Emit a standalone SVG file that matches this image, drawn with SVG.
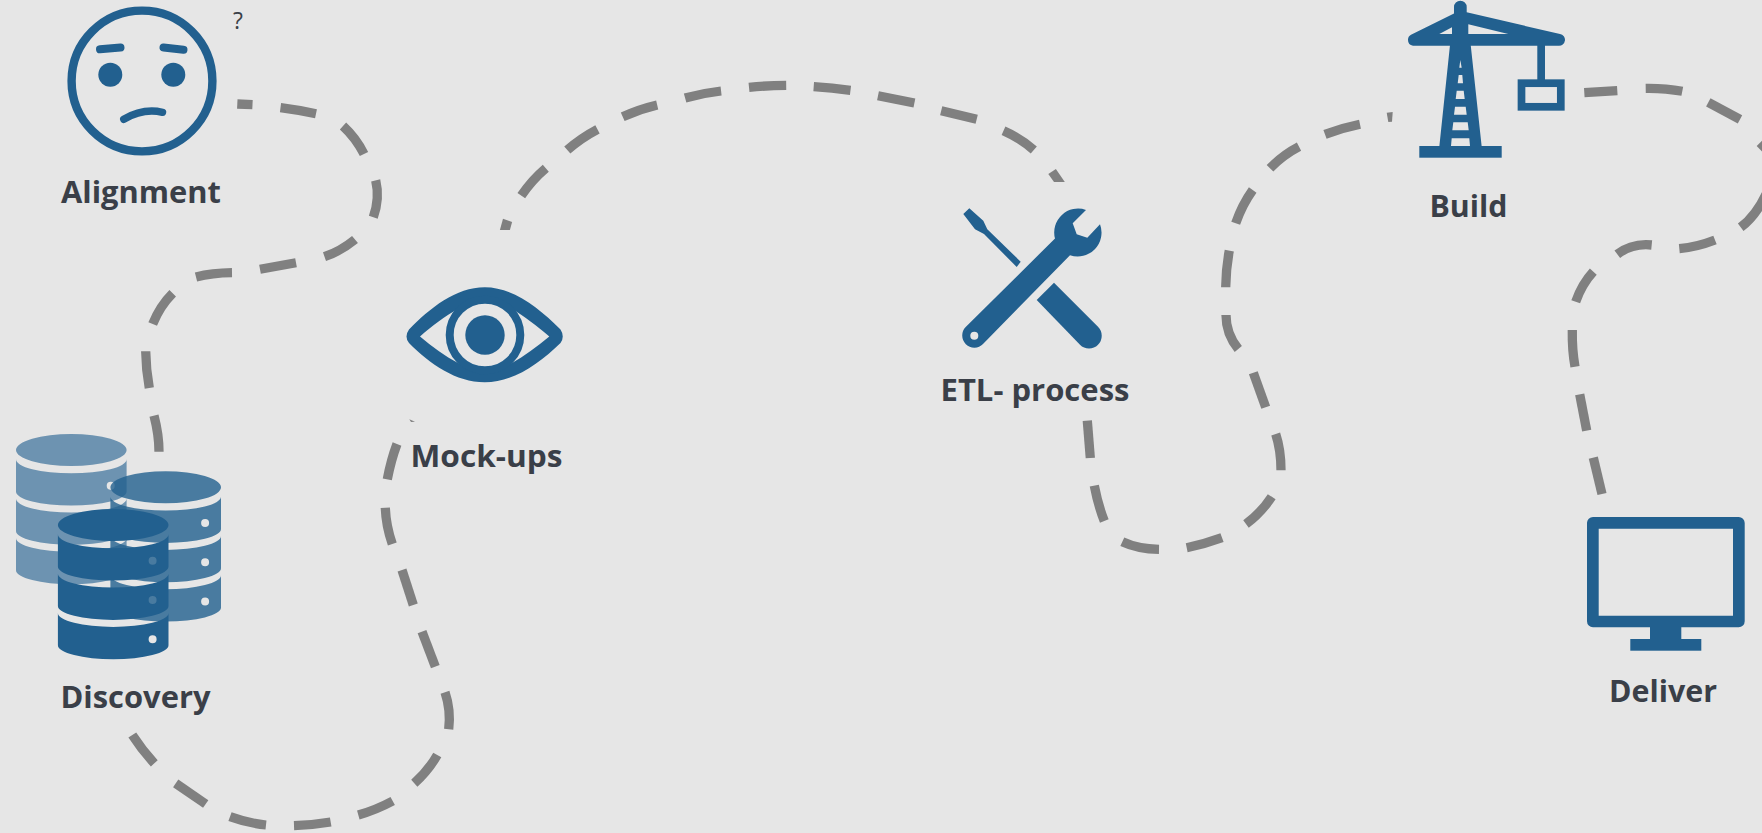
<svg xmlns="http://www.w3.org/2000/svg" xmlns:xlink="http://www.w3.org/1999/xlink" width="1762" height="833" viewBox="0 0 1762 833">
<style>
.label{font-family:"Open Sans","Noto Sans",sans-serif;font-weight:700;font-size:31px;fill:#3a3f48}
.i{fill:#22608f}
.is{fill:none;stroke:#22608f}
#connectors path{fill:none;stroke:#808080;stroke-width:9.3}
#connectors polygon{fill:#808080}
</style>
<defs>
<path id="db" fill-rule="evenodd" d="M-55.3,0A55.3,16 0 1 1 55.3,0A55.3,16 0 1 1 -55.3,0Z
M-55.3,9.3A55.3,14 0 0 0 55.3,9.3V41.6A55.3,14 0 0 1 -55.3,41.6Z M35.4,35.7a4,4 0 1 0 8,0a4,4 0 1 0 -8,0Z
M-55.3,48.6A55.3,14 0 0 0 55.3,48.6V80.9A55.3,14 0 0 1 -55.3,80.9Z M35.4,75a4,4 0 1 0 8,0a4,4 0 1 0 -8,0Z
M-55.3,87.9A55.3,14 0 0 0 55.3,87.9V120.2A55.3,14 0 0 1 -55.3,120.2Z M35.4,114.3a4,4 0 1 0 8,0a4,4 0 1 0 -8,0Z"/>
</defs>
<rect width="1762" height="833" fill="#e6e6e6"/>
<g id="connectors">
<path d="M237.3,104L252.5,104.7"/>
<path d="M280.5,107.7Q298,110 316,113.7"/>
<path d="M343,126Q356,138 364,154"/>
<path d="M375.7,180.3Q380,198 373.3,217.3"/>
<path d="M355,239.5Q341,251 324.5,256.7"/>
<path d="M296,262.7L260,269.3"/>
<path d="M232,272.7Q212,273 196,277"/>
<path d="M172.7,293.3Q160,306 152.7,324"/>
<path d="M145.7,351.3Q146,370 149.3,388"/>
<path d="M154,415.7Q159,435 159,451.7"/>
<path d="M132.3,735Q142,750 154.3,763.3"/>
<path d="M175.7,783.3L205.7,804"/>
<path d="M230,816.7Q247,823 266,825"/>
<path d="M294,825.7Q313,825 330.7,822"/>
<path d="M358.3,815Q376,810 392.7,801"/>
<path d="M414.3,783.3Q428,771 437.3,755"/>
<path d="M448.7,729.3Q451,710 445,692.3"/>
<path d="M435.3,666.7L422,631.7"/>
<path d="M413.3,605L402,570"/>
<path d="M392.3,544Q386,526 385.3,507.7"/>
<path d="M387.3,479.3Q391,460 397,444"/>
<polygon points="409.3,419.3 415,421.7 411,422"/>
<polygon points="499.9,230 509.9,230 512.1,222 503,218.7"/>
<path d="M521.3,195.7Q532,180 545.8,168.3"/>
<path d="M567.3,150Q581,138 597.5,129.3"/>
<path d="M622.7,116.7Q640,109 657.2,105"/>
<path d="M685.1,98Q703,93 721.1,91"/>
<path d="M749,87.3Q767,85.5 786.2,85.3"/>
<path d="M813.7,86.7Q832,88 850.5,90.3"/>
<path d="M878,95.7L914.4,103"/>
<path d="M941.2,110.7L976.7,119.3"/>
<path d="M1003.5,130.7Q1020,138 1033.8,150"/>
<polygon points="1048.3,174 1055.9,169 1064.8,182 1054,182"/>
<polygon points="1386.7,112.7 1392.7,112 1392,121.7 1388.3,122"/>
<path d="M1360,124.3Q1342,128 1325,134.3"/>
<path d="M1299,146.7Q1283,155 1270,168.3"/>
<path d="M1252.7,190Q1242,205 1235.7,223.3"/>
<path d="M1229.3,250.7Q1226,268 1225.7,287.3"/>
<path d="M1226,315Q1226,334 1238.3,349"/>
<path d="M1253.3,372.7L1265.7,407.3"/>
<path d="M1275.7,434Q1281,450 1281,470.3"/>
<path d="M1271.7,496.7Q1261,513 1246,524"/>
<path d="M1222,537.7Q1205,544 1186.7,547.7"/>
<path d="M1159,549.3Q1138,549 1122.3,541.7"/>
<path d="M1104.3,521Q1098,505 1094.3,485.7"/>
<path d="M1090.3,458L1087.3,420.7"/>
<path d="M1584.3,92.7L1617.3,90.7"/>
<path d="M1645.7,88.3Q1665,88 1682.3,91.3"/>
<path d="M1708.3,102.3L1740,119.3"/>
<path d="M1760,142.7L1775,158"/>
<path d="M1768,190Q1757,215 1740.7,227.3"/>
<path d="M1715,240Q1697,247 1679.3,248.7"/>
<path d="M1651.7,245Q1632,243 1617.3,254.3"/>
<path d="M1593.3,271.7Q1582,284 1575.7,301.7"/>
<path d="M1572.3,330Q1572,350 1575,366.7"/>
<path d="M1579.7,394.3L1586.7,430.7"/>
<path d="M1593.3,457.7L1602,494"/>
</g>
<g id="alignment">
<circle class="is" cx="142" cy="81" r="70.4" stroke-width="8.4"/>
<path class="is" stroke-width="8" stroke-linecap="round" d="M100,49.3L120.5,47.5M163.5,47.5L183.5,49.7"/>
<circle class="i" cx="110.3" cy="74.7" r="12"/>
<circle class="i" cx="173.3" cy="74.7" r="12"/>
<path class="is" stroke-width="7.5" stroke-linecap="round" d="M123.8,119.3Q143,108 162.5,112.3"/>
<text class="label" x="61" y="202.5" textLength="160" lengthAdjust="spacingAndGlyphs">Alignment</text>
<text x="233" y="29" font-family="'Open Sans',sans-serif" font-size="23" fill="#3a3f48">?</text>
</g>
<g id="discovery">
<use href="#db" x="71.3" y="450" class="i" opacity="0.62"/>
<use href="#db" x="165.7" y="487.3" class="i" opacity="0.8"/>
<use href="#db" x="113.2" y="525" class="i"/>
<text class="label" x="60.5" y="708" textLength="150" lengthAdjust="spacingAndGlyphs">Discovery</text>
</g>
<g id="mockups">
<path class="i" fill-rule="evenodd" d="M409,329.5C430,308 456,287.3 484.7,287.3C513,287.3 539,308 560.5,329.5Q565,336.5 560.5,343C539,364 513,382.3 484.7,382.3C456,382.3 430,364 409,343Q404,336.5 409,329.5Z M420,336.5C432,326 445,316 458,309L485,298L512,309C524,316 537,326 549.3,336.5C537,347 524,356 512,363L485,374L458,363C445,356 432,347 420,336.5Z"/>
<circle cx="485" cy="335" r="35.3" fill="#e6e6e6" stroke="#22608f" stroke-width="8"/>
<circle class="i" cx="485" cy="335" r="19.7"/>
<text class="label" x="410.5" y="467" textLength="152" lengthAdjust="spacingAndGlyphs">Mock-ups</text>
</g>
<g id="etl">
<path class="i" fill-rule="evenodd" d="M1086,210L1072.7,223.3L1076.7,234.3L1087.3,237.7L1100,224.3A23.8,23.8 0 0 1 1070,255.2L983,344A12,12 0 0 1 965.7,327L1055,238.5A23.8,23.8 0 0 1 1086,210Z M970.3,335.7a4,4 0 1 0 8,0a4,4 0 1 0 -8,0Z"/>
<path class="i" d="M1036.7,300L1054,282.7L1098,326.7A12.7,12.7 0 0 1 1080,344.7Z"/>
<polygon class="i" points="969.3,208.3 983.3,220.7 987.3,229.3 1020.7,261.7 1016.7,267 984,234 975,229.3 963.3,214"/>
<text class="label" x="940.5" y="401" textLength="189" lengthAdjust="spacingAndGlyphs">ETL- process</text>
</g>
<g id="build">
<path class="i" fill-rule="evenodd" d="M1408,40A5.8,5.8 0 0 1 1411,34.8L1454,13.5V7a6.3,6.3 0 0 1 12.7,0V12.3L1560,34A5.9,5.9 0 0 1 1558.5,45.7H1413A5.8,5.8 0 0 1 1408,40Z M1439.3,34L1452,27.3V34Z M1468.3,24.3V34H1508.3Z"/>
<path class="i" fill-rule="evenodd" d="M1450,45L1470.7,45L1481.7,146.7H1439.3Z M1460.3,60L1459.3,67.7H1461.7Z M1458.7,75H1462.3L1463,83.3H1457.7Z M1456.7,90.7H1463.7L1464.7,99H1455.7Z M1455,106.7H1465.7L1466.7,114.7H1454Z M1453.3,122.3H1467.7L1468.7,130.3H1452.3Z M1451.7,138.3H1469.3L1470,146H1451Z"/>
<rect class="i" x="1419.3" y="146" width="82.4" height="11.7"/>
<rect class="i" x="1537.3" y="45" width="7.7" height="35"/>
<rect class="is" x="1521.5" y="83.2" width="39.3" height="23.6" stroke-width="7.7"/>
<text class="label" x="1429.5" y="217" textLength="78" lengthAdjust="spacingAndGlyphs">Build</text>
</g>
<g id="deliver">
<path class="i" fill-rule="evenodd" d="M1593,517H1738.7a6,6 0 0 1 6,6V621.3a6,6 0 0 1 -6,6H1593a6,6 0 0 1 -6,-6V523a6,6 0 0 1 6,-6Z M1598.7,528.7V615.7H1733V528.7Z"/>
<rect class="i" x="1650" y="627" width="31.3" height="12.5"/>
<rect class="i" x="1630.3" y="639" width="71" height="11.7"/>
<text class="label" x="1609" y="702" textLength="108" lengthAdjust="spacingAndGlyphs">Deliver</text>
</g>
</svg>
